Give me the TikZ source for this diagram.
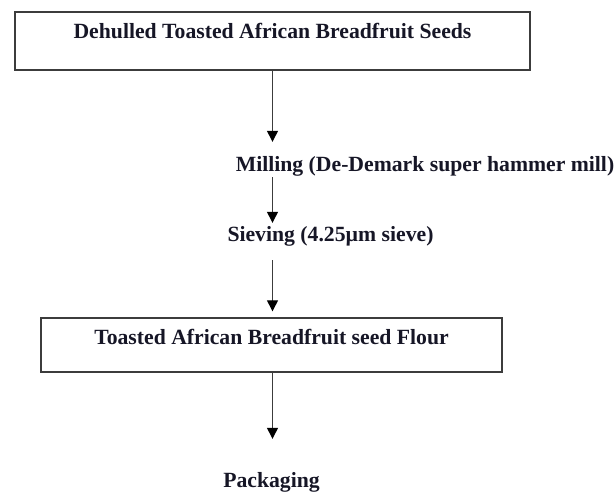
\documentclass[tikz,border=0pt]{standalone}
\usepackage{fontspec}
\setmainfont{Liberation Serif}
\usetikzlibrary{arrows.meta}
\definecolor{inkc}{RGB}{22,22,38}
\definecolor{linec}{RGB}{60,60,60}
\tikzset{
  every node/.style={font=\fontsize{21.7}{26}\selectfont\bfseries, text=inkc},
  flowbox/.style={draw=linec, line width=1.4pt, rectangle, inner sep=0pt, text height=15pt},
  steptext/.style={inner sep=0pt, anchor=base, text height=15pt, text depth=5pt},
  flowarrow/.style={draw=linec, line width=1.3pt, -{Triangle[length=11pt,width=11pt,fill=black,color=black]}}
}
\begin{document}
\begin{tikzpicture}[x=1pt,y=1pt]
\useasboundingbox (0,0) rectangle (616,493);
\node[flowbox, minimum width=515pt, minimum height=58pt, text depth=19pt] (seeds) at (272.5,452) {Dehulled Toasted African Breadfruit Seeds};
\node[steptext] (mill) at (425,321) {Milling (De-Demark super hammer mill)};
\node[steptext] (sieve) at (330.5,251) {Sieving (4.25µm sieve)};
\node[flowbox, minimum width=461pt, minimum height=54pt, text depth=15pt] (flour) at (271.5,148) {Toasted African Breadfruit seed Flour};
\node[steptext] (pack) at (271.5,6) {Packaging};
\draw[flowarrow, shorten >=15pt] (seeds.south) -- (seeds.south |- mill.north);
\draw[flowarrow, shorten >=4pt] (mill.south -| seeds.south) -- (seeds.south |- sieve.north);
\draw[flowarrow, shorten <=13pt, shorten >=6pt] (seeds.south |- sieve.south) -- (seeds.south |- flour.north);
\draw[flowarrow, shorten >=33pt] (flour.south -| seeds.south) -- (seeds.south |- pack.north);
\end{tikzpicture}
\end{document}
